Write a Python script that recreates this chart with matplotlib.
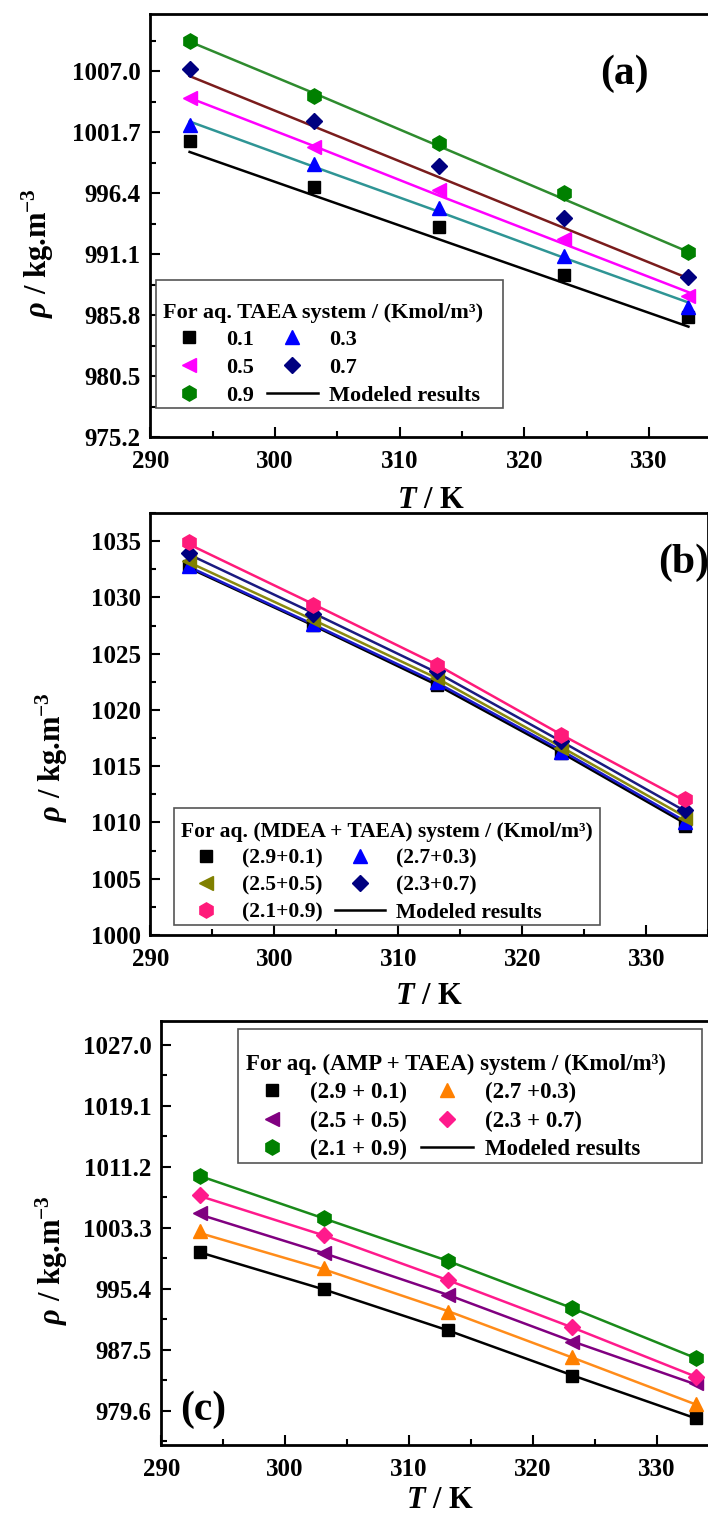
import numpy as np
import matplotlib
matplotlib.use("Agg")
import matplotlib.pyplot as plt
from matplotlib.lines import Line2D
from matplotlib.patches import Rectangle
from matplotlib.ticker import MultipleLocator, FixedLocator

plt.rcParams["font.family"] = ["Liberation Serif", "DejaVu Serif"]
plt.rcParams["font.weight"] = "bold"
plt.rcParams["mathtext.fontset"] = "custom"
plt.rcParams["mathtext.rm"] = "Liberation Serif:bold"
plt.rcParams["mathtext.it"] = "Liberation Serif:italic:bold"
plt.rcParams["mathtext.bf"] = "Liberation Serif:bold"

# ---------- data ----------
T = [293.15, 303.15, 313.15, 323.15, 333.15]

# (a) aq. TAEA
a_labels = ["0.1", "0.3", "0.5", "0.7", "0.9"]
a_exp = [
    [1000.96, 996.98, 993.47, 989.28, 985.63],
    [1002.35, 998.93, 995.09, 990.94, 986.50],
    [1004.68, 1000.47, 996.66, 992.39, 987.46],
    [1007.20, 1002.65, 998.78, 994.28, 989.11],
    [1009.67, 1004.88, 1000.81, 996.40, 991.32],
]
a_model = [
    [1000.0, 996.2, 992.4, 988.6, 984.8],
    [1002.65, 998.7, 994.8, 990.8, 986.9],
    [1004.7, 1000.5, 996.2, 992.0, 987.8],
    [1006.6, 1002.2, 997.8, 993.4, 989.0],
    [1009.6, 1005.1, 1000.5, 995.9, 991.3],
]
a_yticks = [975.2, 980.5, 985.8, 991.1, 996.4, 1001.7, 1007.0]

# (b) aq. (MDEA + TAEA)
b_labels = ["(2.9+0.1)", "(2.7+0.3)", "(2.5+0.5)", "(2.3+0.7)", "(2.1+0.9)"]
b_exp = [
    [1032.77, 1027.58, 1022.24, 1016.16, 1009.70],
    [1032.80, 1027.67, 1022.45, 1016.25, 1010.08],
    [1033.20, 1027.97, 1022.84, 1016.60, 1010.38],
    [1033.96, 1028.53, 1023.43, 1017.20, 1011.12],
    [1034.90, 1029.36, 1024.02, 1017.79, 1012.07],
]
b_model = [
    [1032.6, 1027.5, 1022.2, 1016.2, 1009.9],
    [1032.7, 1027.6, 1022.4, 1016.4, 1010.1],
    [1033.1, 1028.0, 1022.8, 1016.7, 1010.5],
    [1033.8, 1028.6, 1023.3, 1017.2, 1011.0],
    [1034.7, 1029.4, 1024.0, 1017.8, 1011.9],
]
b_yticks = [1000, 1005, 1010, 1015, 1020, 1025, 1030, 1035]

# (c) aq. (AMP + TAEA)
c_labels = ["(2.9 + 0.1)", "(2.7 +0.3)", "(2.5 + 0.5)", "(2.3 + 0.7)", "(2.1 + 0.9)"]
c_exp = [
    [1000.19, 995.40, 990.05, 984.09, 978.61],
    [1002.87, 998.03, 992.42, 986.51, 980.42],
    [1005.16, 1000.06, 994.58, 988.54, 983.14],
    [1007.53, 1002.35, 996.52, 990.39, 983.92],
    [1009.99, 1004.51, 999.03, 992.85, 986.38],
]
c_model = [
    [1000.1, 995.3, 990.0, 984.2, 978.6],
    [1002.6, 997.9, 992.5, 986.5, 980.4],
    [1005.0, 1000.0, 994.6, 988.6, 983.0],
    [1007.4, 1002.3, 996.5, 990.4, 984.0],
    [1010.0, 1004.5, 999.0, 992.9, 986.4],
]
c_yticks = [979.6, 987.5, 995.4, 1003.3, 1011.2, 1019.1, 1027.0]

x_ticks = [290, 300, 310, 320, 330]

# ---------- styles ----------
markers = ["s", "^", "<", "D", "h"]
msizes = [9, 10, 10, 8.5, 11]
a_mcol = ["#000000", "#0000ff", "#ff00ff", "#000080", "#008000"]
a_lcol = ["#000000", "#2f9595", "#ff00ff", "#7a1c1c", "#2e8b2e"]
b_mcol = ["#000000", "#0000ff", "#808000", "#000080", "#ff1a7a"]
b_lcol = ["#000000", "#1a1acc", "#8a8a10", "#1a1a80", "#ff1a7a"]
c_mcol = ["#000000", "#ff8000", "#800080", "#ff1a8c", "#008000"]
c_lcol = ["#000000", "#ff8c1a", "#800080", "#ff1a8c", "#1a8a1a"]

W, H = 708, 1515
fig = plt.figure(figsize=(W / 100, H / 100), dpi=100)


def px_axes(x0, x1, y0, y1):
    return fig.add_axes([x0 / W, 1 - y1 / H, (x1 - x0) / W, (y1 - y0) / H])


def panel(ax, exp, model, mcol, lcol, labels, title, yticks, ylim, box, fsize):
    hs = []
    for i in range(5):
        ax.plot(T, model[i], color=lcol[i], lw=1.8, zorder=2)
        h, = ax.plot(T, exp[i], ls="none", marker=markers[i], ms=msizes[i],
                     color=mcol[i], mec=mcol[i], zorder=3, label=labels[i])
        hs.append(h)
    ax.set_xlim(290, 335)
    ax.set_ylim(*ylim)
    ax.xaxis.set_major_locator(FixedLocator(x_ticks))
    ax.xaxis.set_minor_locator(MultipleLocator(5))
    ax.yaxis.set_major_locator(FixedLocator(yticks))
    step = yticks[1] - yticks[0]
    ax.yaxis.set_minor_locator(MultipleLocator(step / 2, offset=yticks[0]))
    ax.tick_params(which="both", direction="in", labelsize=18, width=1.5)
    ax.tick_params(which="major", length=7, pad=7)
    ax.tick_params(axis="x", which="major", pad=9)
    ax.tick_params(which="minor", length=4)
    fmt = "%.1f" if isinstance(yticks[0], float) else "%d"
    ax.set_yticklabels([fmt % v for v in yticks])
    ax.set_xticklabels([str(v) for v in x_ticks])
    for lab in ax.get_xticklabels() + ax.get_yticklabels():
        lab.set_fontweight("bold")
    for s in ax.spines.values():
        s.set_linewidth(2)

    # legend frame drawn by hand so the taller top margin can be matched
    x0, y0, x1, y1 = box
    ax.add_patch(Rectangle((x0 / W, 1 - y1 / H), (x1 - x0) / W, (y1 - y0) / H,
                           transform=fig.transFigure, facecolor="white",
                           edgecolor="#555555", lw=1.2, zorder=4.5, clip_on=False))
    model_h = Line2D([], [], color="black", lw=1.8)
    handles = [hs[0], hs[2], hs[4], hs[1], hs[3], model_h]
    names = [labels[0], labels[2], labels[4], labels[1], labels[3], "Modeled results"]
    leg = ax.legend(handles, names, ncol=2, loc="lower left",
                    bbox_to_anchor=((x0 + 3) / W, 1 - (y1 + 2) / H),
                    bbox_transform=fig.transFigure, borderaxespad=0, frameon=False,
                    title=title, title_fontproperties={"weight": "bold", "size": fsize},
                    prop={"weight": "bold", "size": fsize}, handlelength=2.3,
                    handletextpad=0.5, columnspacing=0.6, labelspacing=0.32,
                    borderpad=0.2)
    leg.set_zorder(5)
    leg._legend_box.align = "left"
    return ax


ylab = r"$\rho$ / kg.m$^{-3}$"
xlab = r"$T$ / K"

# (a)
axa = px_axes(150.3, 711.5, 14, 437)
panel(axa, a_exp, a_model, a_mcol, a_lcol, a_labels,
      "For aq. TAEA system / (Kmol/m³)", a_yticks, (975.2, 1012.0),
      (156, 280, 503, 408), 16)
axa.text(0.845, 0.858, "(a)", transform=axa.transAxes, fontsize=30,
         fontweight="bold", ha="center", va="center")

# (b)
axb = px_axes(150.3, 708.3, 513, 935)
panel(axb, b_exp, b_model, b_mcol, b_lcol, b_labels,
      "For aq. (MDEA + TAEA) system / (Kmol/m³)", b_yticks, (1000, 1037.5),
      (174, 808, 600, 925), 15.5)
axb.text(0.955, 0.881, "(b)", transform=axb.transAxes, fontsize=30,
         fontweight="bold", ha="center", va="center")

# (c)
axc = px_axes(161.2, 718.8, 1021, 1445)
panel(axc, c_exp, c_model, c_mcol, c_lcol, c_labels,
      "For aq. (AMP + TAEA) system / (Kmol/m³)", c_yticks, (975.15, 1030.1),
      (238, 1029, 702, 1163), 16.5)
axc.text(0.075, 0.083, "(c)", transform=axc.transAxes, fontsize=30,
         fontweight="bold", ha="center", va="center")

# axis labels
for (xc, yc, yl_x, yl_y) in [(431, 500, 38, 253), (429, 997, 52, 757), (440, 1500, 52, 1260)]:
    fig.text(xc / W, 1 - yc / H, xlab, fontsize=22, fontweight="bold", ha="center", va="center")
    fig.text(yl_x / W, 1 - yl_y / H, ylab, fontsize=22, fontweight="bold", ha="center",
             va="center", rotation=90)

fig.savefig("out.png", dpi=100)
